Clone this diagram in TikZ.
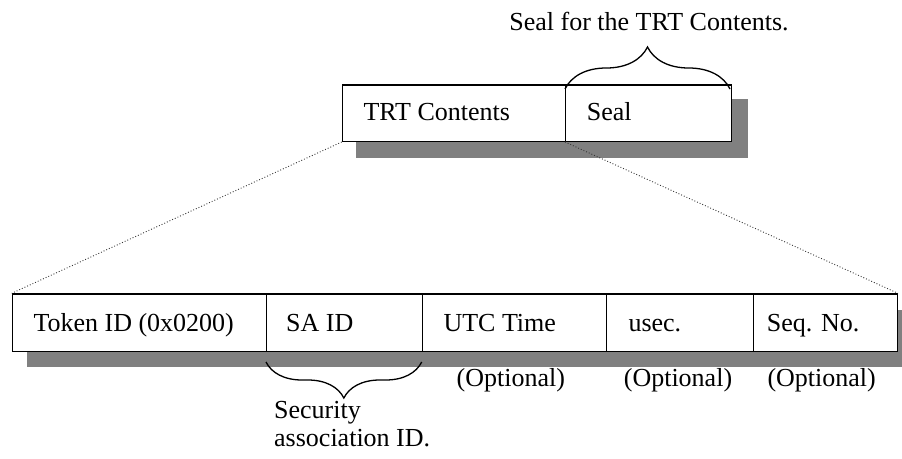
\documentclass[tikz,border=0pt]{standalone}
\usepackage{fontspec}
\setmainfont{Liberation Serif}
\usetikzlibrary{decorations.pathreplacing}
\definecolor{shadowgray}{HTML}{808080}
\begin{document}
\begin{tikzpicture}[x=1pt,y=-1pt,
  field/.style={draw=black, line width=1.3pt, fill=white, inner sep=0pt, anchor=north west},
  topfield/.style={field, minimum height=56.4pt},
  botfield/.style={field, minimum height=57.4pt},
  shadowbox/.style={fill=shadowgray, draw=none},
  txt/.style={font=\fontsize{26}{30}\selectfont, inner sep=0pt, anchor=base west},
  ctxt/.style={txt, anchor=base},
  zoomline/.style={dotted, line width=0.9pt, draw=black!80},
  bracestyle/.style={decorate, line width=1.3pt}]
\clip (0,0) rectangle (902,458);
% shadows
\fill[shadowgray] (356,99.3) rectangle (748,158);
\fill[shadowgray] (26.7,310) rectangle (915,367.3);
% top boxes
\node[topfield, minimum width=223.3pt] (trt) at (341.7,84.3) {};
\node[topfield, minimum width=166pt] (seal) at (565,84.3) {};
\node[txt] at (363.3,120) {TRT Contents};
\node[txt] at (586.7,120) {Seal};
% brace over seal
\coordinate (sealbl) at (565,89);
\coordinate (sealbr) at (730,89);
\draw[bracestyle, decoration={brace, amplitude=42pt}] (sealbl) -- (sealbr);
\node[ctxt] (sealnote) at (649,30.7) {Seal for the TRT Contents.};
% bottom boxes
\node[botfield, minimum width=254.3pt] (tok) at (11.7,293.3) {};
\node[botfield, minimum width=155.7pt] (sa) at (266,293.3) {};
\node[botfield, minimum width=184pt] (utc) at (421.7,293.3) {};
\node[botfield, minimum width=147pt] (usec) at (605.7,293.3) {};
\node[botfield, minimum width=144pt] (seq) at (752.7,293.3) {};
\node[txt] at (33.3,331.7) {Token ID (0x0200)};
\node[txt] at (286,331.7) {SA ID};
\node[txt] at (443.3,331.7) {UTC Time};
\node[txt] at (628.3,331.7) {usec.};
\node[txt] at (766.7,331.7) {Seq. No.};
% optional labels
\node[ctxt] at (510.8,386.7) {(Optional)};
\node[ctxt] at (678,386.7) {(Optional)};
\node[ctxt] at (821.7,386.7) {(Optional)};
% brace under SA ID
\coordinate (sabl) at (266,362);
\coordinate (sabr) at (421.7,362);
\draw[bracestyle, decoration={brace, amplitude=36pt}] (sabr) -- (sabl);
\node[txt] (sec1) at (274,418) {Security};
\node[txt] (sec2) at (274,446.7) {association ID.};
% zoom lines
\draw[zoomline] (trt.south west) -- (tok.north west);
\draw[zoomline] (seal.south west) -- (seq.north east);
\end{tikzpicture}
\end{document}
